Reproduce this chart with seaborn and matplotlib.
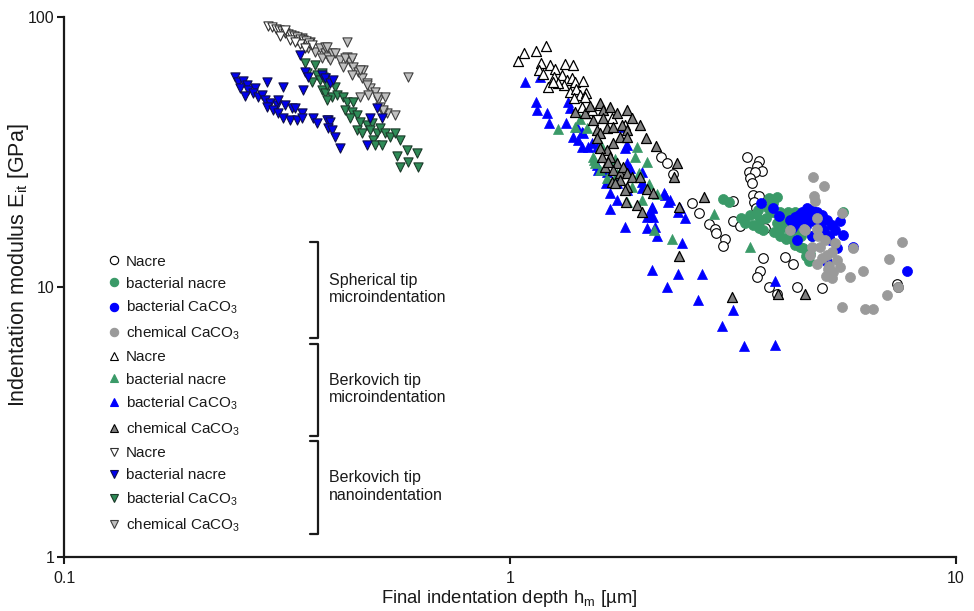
import matplotlib
matplotlib.use("Agg")
import matplotlib.pyplot as plt
from matplotlib.lines import Line2D
from matplotlib.ticker import NullLocator
import seaborn as sns
import pandas as pd

# ---------------- data (x = final indentation depth [um], y = modulus [GPa]) ----------------
sph_nacre = [(3.40,30.4),(3.62,29.4),(3.58,28.1),(3.67,27.0),(3.44,26.7),(3.54,26.7),(3.45,25.3),(3.48,24.2),
             (3.50,21.9),(3.62,21.7),(3.52,20.7),(3.56,19.6),(3.16,20.9),(2.56,20.4),(2.66,18.8),(2.80,17.1),
             (2.88,16.4),(2.90,15.8),(3.03,15.1),(3.01,14.2),(3.16,17.6),(3.28,16.8),(3.73,16.6),(3.69,12.8),
             (4.14,12.9),(4.30,12.2),(3.64,11.5),(3.58,10.9),(3.81,10.0),(3.96,9.42),(4.41,9.97),(5.00,9.89),
             (7.36,10.3),(7.42,10.0),(2.18,30.2),(2.25,28.9),(2.32,26.2)]
sph_bact_nacre = [(3.00,21.1),(3.09,20.7),(3.83,21.1),(3.96,21.6),(3.56,18.6),(3.64,17.7),(3.62,16.6),(3.70,16.3),
                  (3.78,19.6),(3.84,19.0),(4.03,19.0),(4.10,17.7),(4.17,17.0),(4.06,16.5),(4.25,15.8),(4.32,14.9),
                  (4.35,14.3),(4.47,14.1),(4.67,12.5),(4.10,18.1),(4.21,19.0),(4.35,19.0),(4.39,18.0),(4.03,15.4),
                  (3.96,17.2),(4.55,13.9),(4.71,13.3),(3.37,17.2),(3.60,19.3),(3.60,17.0),(3.80,21.3),(5.58,18.9),
                  (4.96,17.4),(4.76,15.5),(3.89,20.4),(3.45,18.5),(3.50,17.0),(3.75,18.0),(3.90,16.0),(4.15,15.0),
                  (4.50,15.5),(3.30,18.0),(3.95,18.8),(4.40,16.2),(4.60,13.0)]
sph_bact_caco3 = [(3.65,20.5),(3.88,19.6),(4.00,18.3),(4.25,17.7),(4.35,18.1),(4.51,19.0),(4.63,19.6),(4.75,19.3),
                  (4.87,19.0),(5.00,18.5),(5.13,17.7),(5.27,17.0),(5.36,16.3),(5.50,17.5),(5.59,15.6),(5.42,13.9),
                  (5.89,14.1),(7.75,11.5),(4.39,14.9),(4.75,15.4),(4.91,16.0),(5.22,14.9),(5.13,12.4),(4.63,18.1),
                  (4.47,17.2),(4.79,17.5),(4.96,17.0),(4.28,16.5),(4.45,18.5),(4.55,17.8),(4.70,18.2),(4.85,17.8),
                  (4.60,16.8),(5.05,16.2),(4.30,16.8),(5.20,15.5)]
sph_chem_caco3 = [(4.77,25.5),(5.06,23.7),(4.81,21.7),(4.83,20.9),(5.54,18.8),(4.87,18.0),(4.56,16.4),(4.25,16.2),
                  (4.87,16.4),(5.08,14.9),(4.96,14.1),(4.75,14.1),(4.71,13.1),(4.87,12.2),(5.13,13.1),(5.27,13.5),
                  (5.40,12.6),(5.50,11.9),(5.31,11.4),(5.17,11.7),(5.27,10.8),(5.79,10.9),(5.89,14.0),(6.20,11.5),
                  (5.54,8.45),(6.25,8.27),(6.51,8.27),(7.01,9.34),(7.09,12.7),(7.56,14.7),(7.42,10.0),(4.58,16.3),
                  (5.00,12.8),(5.20,12.0),(4.90,15.5),(5.35,14.5),(5.10,11.0)]

berk_nacre = [(1.04,68.9),(1.075,73.8),(1.144,75.0),(1.204,78.1),(1.172,67.4),(1.229,66.4),(1.163,63.6),(1.262,64.0),
              (1.328,67.0),(1.382,66.4),(1.255,60.1),(1.219,54.9),(1.306,61.0),(1.34,58.4),(1.375,59.3),(1.399,57.6),
              (1.455,58.1),(1.321,56.0),(1.363,52.9),(1.406,54.0),(1.435,51.4),(1.48,52.5),(1.473,50.7),(1.391,50.0),
              (1.448,46.5),(1.498,44.0),(1.525,45.2),(1.188,61.5),(1.283,56.8),(1.25,57.6),(1.59,47.2),(1.69,42.3),
              (1.81,39.8)]
berk_bact_nacre = [(1.283,38.4),(1.435,41.8),(1.399,39.2),(1.49,38.7),(1.532,30.4),(1.551,28.7),(1.923,32.9),
                   (1.906,30.2),(2.026,29.1),(1.735,26.2),(1.874,23.5),(2.133,22.1),(1.973,21.0),(2.10,16.3),
                   (2.304,15.0),(1.83,20.7),(1.591,27.1),(1.648,25.3),(2.86,18.6),(3.46,14.1),(1.543,29.5),
                   (1.60,33.5),(1.72,29.8),(1.95,26.5),(2.05,24.0)]
berk_bact_caco3 = [(1.081,57.6),(1.168,60.1),(1.144,48.6),(1.148,45.2),(1.208,44.0),(1.225,40.4),(1.335,40.4),
                   (1.351,48.6),(1.363,45.9),(1.387,36.0),(1.448,33.1),(1.498,33.1),(1.565,28.3),(1.577,27.1),
                   (1.641,24.2),(1.675,22.2),(1.735,21.0),(1.675,19.4),(1.811,16.7),(2.026,18.2),(2.096,18.2),
                   (2.026,16.5),(2.114,16.7),(2.14,15.4),(2.21,22.2),(2.285,21.0),(2.384,19.0),(2.469,18.0),
                   (2.426,14.5),(2.079,11.6),(2.384,11.2),(2.245,10.0),(2.645,8.95),(1.423,35.0),(1.46,37.1),
                   (1.411,39.2),(1.83,28.7),(1.973,24.5),(1.83,33.6),(1.795,39.2),(2.08,19.8),(2.06,18.7),
                   (2.70,11.2),(3.17,8.22),(2.985,7.17),(3.35,6.05),(3.93,6.1),(3.93,10.5),(1.448,37.6),
                   (1.525,34.1),(1.565,33.1),(1.811,32.6),(1.648,26.7),(1.735,24.2),(1.83,22.9),(1.858,27.5),
                   (1.973,26.7),(1.973,23.2),(2.226,21.9),(2.265,20.7),(2.40,19.6),(2.08,19.6)]
berk_chem_caco3 = [(1.399,44.6),(1.473,44.2),(1.512,46.8),(1.591,47.9),(1.619,45.2),(1.675,46.5),(1.735,44.0),
                   (1.83,45.2),(1.874,42.2),(1.956,39.8),(1.619,42.2),(1.538,41.5),(1.565,38.1),(1.648,38.7),
                   (1.705,39.2),(1.78,39.8),(1.83,38.1),(1.765,36.0),(1.83,36.0),(1.705,34.1),(1.648,32.2),
                   (1.591,32.6),(1.675,30.4),(1.735,28.7),(1.705,27.1),(1.765,26.4),(1.795,27.9),(1.83,26.4),
                   (1.765,24.9),(1.69,24.5),(1.72,24.2),(1.83,23.5),(1.874,25.6),(1.956,25.6),(2.026,23.0),
                   (2.096,22.2),(1.82,20.7),(1.923,20.1),(1.973,19.0),(2.018,35.5),(2.125,33.3),(2.372,28.9),
                   (2.33,25.6),(2.39,19.7),(2.398,13.0),(1.811,22.9),(1.591,37.1),(1.565,35.5),(1.605,30.4),
                   (1.633,27.9),(1.661,29.1),(3.14,9.16),(3.98,9.42),(2.72,21.6),(4.58,9.42)]

nano_nacre = [(0.2867,92.6),(0.2926,91.8),(0.2987,90.3),(0.3034,89.5),(0.3082,88.8),(0.3131,87.2),(0.3180,86.5),
              (0.3228,85.8),(0.3280,85.1),(0.3331,84.3),(0.3383,82.9),(0.3435,82.2),(0.3488,81.5),(0.3543,80.1),
              (0.3597,78.8),(0.305,85.1),(0.321,82.2),(0.338,79.4),(0.313,89.5),(0.3296,80.8),(0.347,76.8)]
nano_bact_nacre = [(0.2416,59.8),(0.2459,57.6),(0.2523,58.1),(0.248,54.4),(0.2568,56.0),(0.2589,53.7),(0.2545,51.0),
                   (0.268,54.4),(0.2658,52.2),(0.2727,50.7),(0.2775,51.4),(0.2847,57.6),(0.2822,49.3),(0.290,47.9),
                   (0.2847,46.5),(0.2998,47.2),(0.3022,49.3),(0.2946,45.2),(0.3131,47.2),(0.3103,55.2),(0.324,45.9),
                   (0.3296,45.9),(0.3022,44.0),(0.3103,42.2),(0.321,41.5),(0.3325,41.5),(0.341,44.0),(0.341,42.2),
                   (0.344,53.7),(0.3623,42.2),(0.3686,40.4),(0.3914,41.5),(0.3383,72.3),(0.347,62.7),(0.353,60.1),
                   (0.388,41.5),(0.395,40.9),(0.3914,38.7),(0.398,38.1),(0.405,36.0),(0.416,32.6),(0.4774,33.6),
                   (0.485,42.2),(0.502,45.9),(0.5157,42.2),(0.378,61.0),(0.3848,59.3),(0.395,56.8),(0.4017,58.4)]
nano_bact_caco3 = [(0.347,67.4),(0.3654,66.4),(0.35,61.9),(0.3686,61.0),(0.378,61.9),(0.359,57.6),(0.375,58.4),
                   (0.3848,59.3),(0.3914,56.8),(0.378,53.7),(0.3848,52.2),(0.398,50.7),(0.388,49.3),(0.3814,60.1),
                   (0.388,56.0),(0.405,55.2),(0.4088,51.4),(0.423,50.7),(0.4304,48.6),(0.4266,45.2),(0.4454,48.6),
                   (0.4417,44.6),(0.438,42.2),(0.453,43.4),(0.461,40.9),(0.453,38.1),(0.465,37.1),(0.4774,39.8),
                   (0.4897,40.4),(0.485,38.1),(0.502,37.1),(0.511,38.7),(0.5245,37.1),(0.538,36.0),(0.552,37.1),
                   (0.567,35.0),(0.4937,35.0),(0.498,33.6),(0.5157,33.6),(0.557,30.6),(0.5866,32.2),(0.618,31.3),
                   (0.567,27.9),(0.5915,29.1),(0.623,27.9)]
nano_chem_caco3 = [(0.321,83.4),(0.3325,82.2),(0.341,83.4),(0.356,81.0),(0.353,76.6),(0.3654,74.4),(0.375,76.6),
                   (0.3848,73.4),(0.378,70.3),(0.3914,71.3),(0.398,73.4),(0.3848,77.6),(0.405,73.4),(0.395,69.3),
                   (0.416,69.3),(0.4304,71.3),(0.438,68.3),(0.423,65.4),(0.4454,65.4),(0.457,62.7),(0.4417,61.0),
                   (0.469,63.6),(0.465,59.3),(0.4774,56.8),(0.485,54.4),(0.498,52.9),(0.481,51.4),(0.461,50.7),
                   (0.5067,49.3),(0.5245,50.7),(0.511,46.5),(0.529,44.0),(0.52,44.6),(0.552,43.3),(0.5915,60.1),
                   (0.4304,81.0),(0.388,77.6),(0.4266,70.3),(0.4417,70.3),(0.461,63.6),(0.4774,56.0),(0.502,50.7),
                   (0.52,45.2)]

legend_labels = ["Nacre", "bacterial nacre", "bacterial CaCO$_3$", "chemical CaCO$_3$",
                 "Nacre", "bacterial nacre", "bacterial CaCO$_3$", "chemical CaCO$_3$",
                 "Nacre", "bacterial nacre", "bacterial CaCO$_3$", "chemical CaCO$_3$"]
group_labels = ["Spherical tip\nmicroindentation", "Berkovich tip\nmicroindentation", "Berkovich tip\nnanoindentation"]
x_ticks = [0.1, 1, 10]
x_ticklabels = ["0.1", "1", "10"]
y_ticks = [1, 10, 100]
y_ticklabels = ["1", "10", "100"]

# ---------------- style ----------------
sns.set_theme(style="ticks")
plt.rcParams["font.family"] = ["Liberation Sans", "DejaVu Sans"]
plt.rcParams["mathtext.fontset"] = "custom"
plt.rcParams["mathtext.rm"] = "Liberation Sans"
plt.rcParams["mathtext.it"] = "Liberation Sans:italic"
plt.rcParams["mathtext.default"] = "regular"

GREEN = "#3a9a68"
DGREEN = "#2e8b57"
BLUE = "#0000ff"
INK = "#1a1a1a"

W, H = 974, 611
fig = plt.figure(figsize=(W / 100, H / 100), dpi=100)
ax = fig.add_axes([64 / W, 1 - 557 / H, (956 - 64) / W, (557 - 17) / H])

# (data, marker, face, edge, linewidth, size, zorder)
series = [
    (sph_nacre,       "o", "white",   "black",   0.8, 48, 3),
    (sph_bact_nacre,  "o", GREEN,     GREEN,     0.5, 52, 4),
    (sph_bact_caco3,  "o", BLUE,      BLUE,      0.5, 52, 5),
    (sph_chem_caco3,  "o", "#9a9a9a", "#9a9a9a", 0.5, 52, 6),
    (berk_bact_caco3, "^", BLUE,      BLUE,      0.5, 52, 3),
    (berk_bact_nacre, "^", GREEN,     GREEN,     0.5, 52, 4),
    (berk_nacre,      "^", "white",   "black",   0.9, 52, 5),
    (berk_chem_caco3, "^", "#808080", "black",   0.9, 52, 6),
    (nano_chem_caco3, "v", "#c0c0c0", "#404040", 0.8, 44, 3),
    (nano_nacre,      "v", "white",   "#303030", 0.8, 44, 4),
    (nano_bact_caco3, "v", DGREEN,    "#1c3a2a", 0.8, 44, 5),
    (nano_bact_nacre, "v", "#0000ee", "#10104a", 0.8, 44, 6),
]

for data, m, fc, ec, lw, s, z in series:
    df = pd.DataFrame(data, columns=["depth", "modulus"])
    sns.scatterplot(data=df, x="depth", y="modulus", marker=m, color=fc, edgecolor=ec,
                    linewidth=lw, s=s, ax=ax, zorder=z, legend=False)

ax.set_xscale("log")
ax.set_yscale("log")
ax.set_xlim(0.1, 10)
ax.set_ylim(1, 100)
ax.set_xticks(x_ticks)
ax.set_xticklabels(x_ticklabels)
ax.set_yticks(y_ticks)
ax.set_yticklabels(y_ticklabels)
ax.xaxis.set_minor_locator(NullLocator())
ax.yaxis.set_minor_locator(NullLocator())
for sp in ["top", "right"]:
    ax.spines[sp].set_visible(False)
for sp in ["left", "bottom"]:
    ax.spines[sp].set_linewidth(1.6)
    ax.spines[sp].set_color(INK)
ax.tick_params(axis="both", direction="out", length=5, width=1.5, color=INK,
               labelsize=11.5, labelcolor=INK)
ax.tick_params(axis="x", pad=5)
ax.tick_params(axis="y", pad=2)
ax.set_xlabel("Final indentation depth h$_m$ [µm]", fontsize=13.3, color=INK)
ax.set_ylabel("Indentation modulus E$_{it}$ [GPa]", fontsize=15.5, color=INK)
ax.xaxis.set_label_coords(0.4995, -0.058)
ax.yaxis.set_label_coords(-0.037, 0.541)

# ---------------- legend ----------------
legend_style = [
    ("o", "white", "black"), ("o", GREEN, GREEN), ("o", BLUE, BLUE), ("o", "#9a9a9a", "#9a9a9a"),
    ("^", "white", "black"), ("^", GREEN, GREEN), ("^", BLUE, BLUE), ("^", "#808080", "black"),
    ("v", "white", "#303030"), ("v", "#0000ee", "#10104a"), ("v", DGREEN, "#1c3a2a"), ("v", "#c0c0c0", "#404040"),
]
handles = [Line2D([], [], linestyle="none", marker=m, markerfacecolor=fc, markeredgecolor=ec,
                  markeredgewidth=0.8, markersize=6) for m, fc, ec in legend_style]
leg = ax.legend(handles, legend_labels, loc="upper left",
                bbox_to_anchor=(108 / W, 1 - 254.5 / H), bbox_transform=fig.transFigure,
                frameon=False, fontsize=11, handlelength=0.8, handletextpad=0.35,
                labelspacing=0.54, borderpad=0, borderaxespad=0)
for t in leg.get_texts():
    t.set_color(INK)

# brackets and group labels
brackets = [(242.3, 338.3), (344.3, 436.0), (440.7, 534.0)]
for (top, bot), lab in zip(brackets, group_labels):
    xs = [310 / W, 317.5 / W, 317.5 / W, 310 / W]
    ys = [1 - top / H, 1 - top / H, 1 - bot / H, 1 - bot / H]
    fig.add_artist(Line2D(xs, ys, color=INK, linewidth=1.6, transform=fig.transFigure))
    fig.text(329 / W, 1 - ((top + bot) / 2 - 1) / H, lab, ha="left", va="center",
             fontsize=11.5, linespacing=1.2, color=INK)

fig.savefig("out.png", dpi=100)
